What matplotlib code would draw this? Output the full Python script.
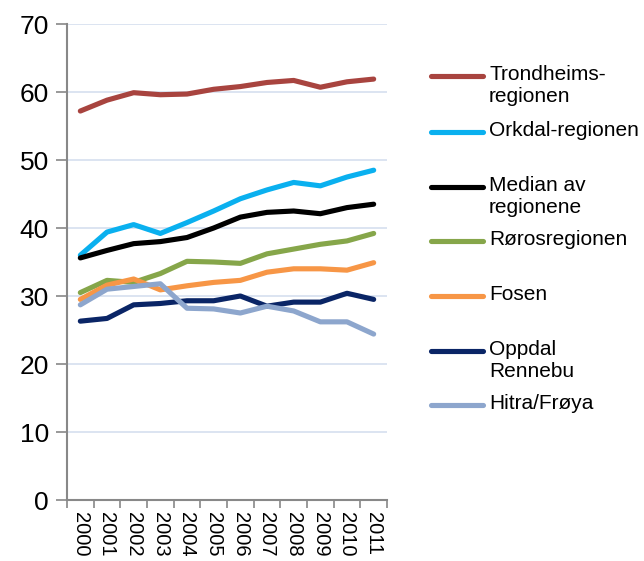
import matplotlib
matplotlib.use("Agg")
import matplotlib.pyplot as plt
from matplotlib.lines import Line2D

plt.rcParams['font.family'] = ['Liberation Sans', 'DejaVu Sans']

years = [str(y) for y in range(2000, 2012)]
trondheim = [57.2, 58.8, 59.9, 59.6, 59.7, 60.4, 60.8, 61.4, 61.7, 60.7, 61.5, 61.9]
orkdal = [36.0, 39.4, 40.5, 39.2, 40.8, 42.5, 44.3, 45.6, 46.7, 46.2, 47.5, 48.5]
median = [35.6, 36.7, 37.7, 38.0, 38.6, 40.0, 41.6, 42.3, 42.5, 42.1, 43.0, 43.5]
roros = [30.5, 32.3, 32.0, 33.3, 35.1, 35.0, 34.8, 36.2, 36.9, 37.6, 38.1, 39.2]
fosen = [29.5, 31.6, 32.5, 30.9, 31.5, 32.0, 32.3, 33.5, 34.0, 34.0, 33.8, 34.9]
oppdal = [26.3, 26.7, 28.7, 28.9, 29.3, 29.3, 30.0, 28.5, 29.1, 29.1, 30.4, 29.5]
hitra = [28.7, 31.0, 31.4, 31.8, 28.2, 28.1, 27.5, 28.5, 27.8, 26.2, 26.2, 24.4]

labels = ["Trondheims-\nregionen", "Orkdal-regionen", "Median av\nregionene",
          "Rørosregionen", "Fosen", "Oppdal\nRennebu", "Hitra/Frøya"]
series = [trondheim, orkdal, median, roros, fosen, oppdal, hitra]
colors = ['#A8443F', '#0AB0EF', '#000000', '#86A64A', '#F79646', '#0A2566', '#8DA6CD']

W, H = 644, 561
fig = plt.figure(figsize=(W / 100, H / 100), dpi=100)
ax = fig.add_axes([67 / W, (H - 500) / H, 320 / W, 476 / H])

x = list(range(len(years)))
for vals, c in zip(series, colors):
    ax.plot(x, vals, color=c, lw=3.7, solid_capstyle='round', solid_joinstyle='round', zorder=3)

ax.set_xlim(-0.5, len(years) - 0.5)
ax.set_ylim(0, 70)
ax.set_yticks(range(0, 71, 10))
ax.set_xticks([i - 0.5 for i in range(len(years) + 1)])
ax.set_xticklabels([])
ax.set_xticks(x, minor=True)
ax.set_xticklabels(years, minor=True, rotation=-90, fontsize=14.5)
ax.tick_params(axis='x', which='minor', length=0, pad=9)
ax.tick_params(axis='x', which='major', length=6, width=1.2, color='#888888', direction='out')
ax.tick_params(axis='y', length=8, width=1.2, color='#888888', labelsize=19, pad=5)

for y in range(10, 71, 10):
    ax.axhline(y, color='#D9E2F0', lw=1.3, zorder=1)

for s in ['top', 'right']:
    ax.spines[s].set_visible(False)
for s in ['left', 'bottom']:
    ax.spines[s].set_color('#888888')
    ax.spines[s].set_linewidth(1.5)

# legend drawn manually
handle_y = [76, 132, 187, 241, 296, 351, 405]
for lab, c, hy in zip(labels, colors, handle_y):
    yf = (H - hy) / H
    fig.add_artist(Line2D([431 / W, 483 / W], [yf, yf], color=c, lw=3.7,
                          solid_capstyle='round', transform=fig.transFigure))
    fig.text(489 / W, (H - hy + 11) / H, lab, fontsize=15, va='top', ha='left',
             linespacing=1.22)

fig.savefig('out.png', dpi=100)
